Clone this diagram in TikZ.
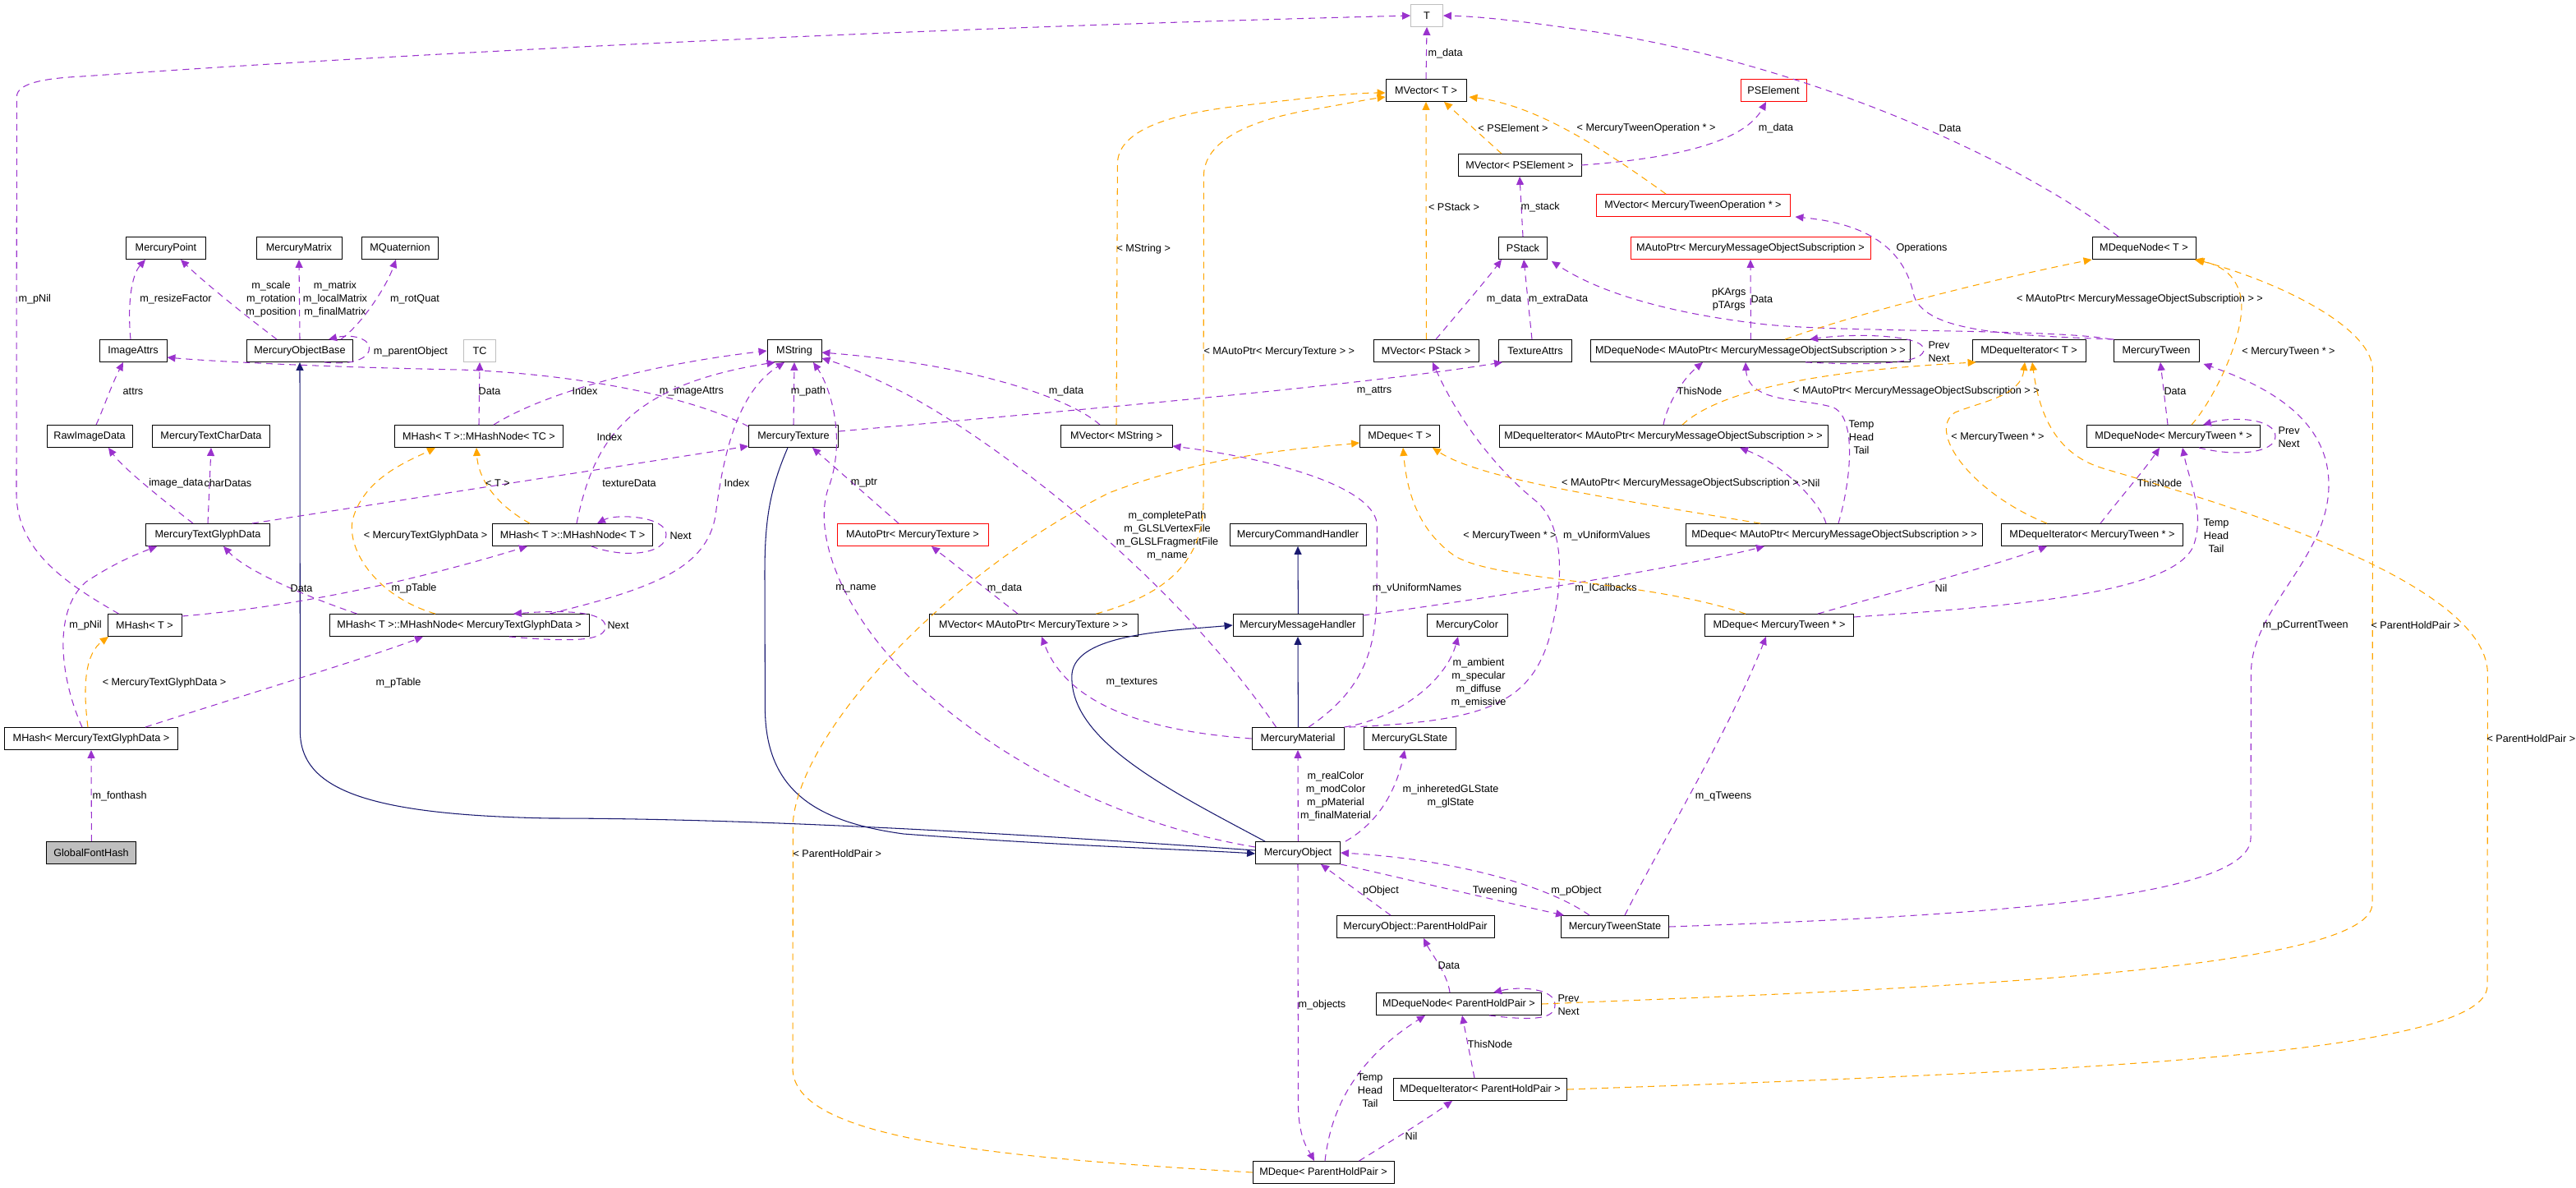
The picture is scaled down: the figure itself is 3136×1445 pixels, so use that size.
\documentclass[tikz,border=0pt]{standalone}
\usepackage{fontspec}
\setmainfont{Liberation Sans}
\usepackage{xcolor}
\usepackage{tikz}
\usetikzlibrary{arrows.meta,calc}
\definecolor{EdgeUse}{HTML}{9A32CD}
\definecolor{EdgeTpl}{HTML}{FFA500}
\definecolor{EdgeInh}{HTML}{191970}
\definecolor{BoxGray}{HTML}{BFBFBF}
\tikzset{
  cls/.style={draw=black, line width=0.5pt, minimum height=5.4mm, inner xsep=1pt, inner ysep=0pt},
  bw/.style={minimum width=#1*0.2mm},
  redcls/.style={cls, draw=red},
  graycls/.style={cls, draw=BoxGray},
  usedge/.style={draw=EdgeUse, line width=0.6pt, dash pattern=on 1.6mm off 1.2mm, -{Triangle[length=2mm,width=1.8mm]}},
  tpledge/.style={draw=EdgeTpl, line width=0.6pt, dash pattern=on 1.6mm off 1.2mm, -{Triangle[length=2mm,width=1.8mm]}},
  inhedge/.style={draw=EdgeInh, line width=0.6pt, -{Triangle[length=2mm,width=1.8mm]}},
  lbl/.style={text=black, inner sep=0pt, align=center}
}

\begin{document}
\begin{tikzpicture}[x=0.2mm, y=-0.2mm, font=\fontsize{7.2}{9.1}\selectfont]
  \useasboundingbox (0,0) rectangle (3136,1445);
  \node[graycls, bw=39] (t) at (1737,19) {T};
  \node[cls, bw=98] (mvect) at (1736,110) {MVector< T >};
  \node[redcls, bw=80] (pselem) at (2159,110) {PSElement};
  \node[cls, bw=150] (mvpse) at (1850,201) {MVector< PSElement >};
  \node[redcls, bw=236] (mvmto) at (2061,250) {MVector< MercuryTweenOperation * >};
  \node[cls, bw=97] (mpoint) at (202,302) {MercuryPoint};
  \node[cls, bw=104] (mmatrix) at (364,302) {MercuryMatrix};
  \node[cls, bw=93] (mquat) at (487,302) {MQuaternion};
  \node[cls, bw=59] (pstack) at (1854,302) {PStack};
  \node[redcls, bw=292] (mapmmos) at (2131,302) {MAutoPtr< MercuryMessageObjectSubscription >};
  \node[cls, bw=126] (mdnt) at (2610,302) {MDequeNode< T >};
  \node[cls, bw=82] (iattrs) at (162,427) {ImageAttrs};
  \node[cls, bw=129] (mob) at (365,427) {MercuryObjectBase};
  \node[graycls, bw=39] (tc) at (584,427) {TC};
  \node[cls, bw=66] (mstring) at (967,427) {MString};
  \node[cls, bw=128] (mvpstack) at (1736,427) {MVector< PStack >};
  \node[cls, bw=89] (tattrs) at (1869,427) {TextureAttrs};
  \node[cls, bw=389] (mdnmmos) at (2131,427) {MDequeNode< MAutoPtr< MercuryMessageObjectSubscription > >};
  \node[cls, bw=138] (mdit) at (2470,427) {MDequeIterator< T >};
  \node[cls, bw=104] (mtween) at (2625,427) {MercuryTween};
  \node[cls, bw=104] (rawimg) at (109,531) {RawImageData};
  \node[cls, bw=143] (mtcd) at (257,531) {MercuryTextCharData};
  \node[cls, bw=205] (mhntc) at (583,531) {MHash< T >::MHashNode< TC >};
  \node[cls, bw=109] (mtex) at (966,531) {MercuryTexture};
  \node[cls, bw=136] (mvmstr) at (1359,531) {MVector< MString >};
  \node[cls, bw=97] (mdqt) at (1704,531) {MDeque< T >};
  \node[cls, bw=400] (mdimmos) at (2025,531) {MDequeIterator< MAutoPtr< MercuryMessageObjectSubscription > >};
  \node[cls, bw=211] (mdnmt) at (2646,531) {MDequeNode< MercuryTween * >};
  \node[cls, bw=151] (mtgd) at (253,651) {MercuryTextGlyphData};
  \node[cls, bw=195] (mhnt) at (697,651) {MHash< T >::MHashNode< T >};
  \node[redcls, bw=184] (apmtex) at (1111,651) {MAutoPtr< MercuryTexture >};
  \node[cls, bw=166] (mch) at (1580,651) {MercuryCommandHandler};
  \node[cls, bw=361] (mdqmmos) at (2233,651) {MDeque< MAutoPtr< MercuryMessageObjectSubscription > >};
  \node[cls, bw=221] (mdimt) at (2547,651) {MDequeIterator< MercuryTween * >};
  \node[cls, bw=90] (mht) at (176,761) {MHash< T >};
  \node[cls, bw=316] (mhnmtgd) at (559,761) {MHash< T >::MHashNode< MercuryTextGlyphData >};
  \node[cls, bw=254] (mvapmtex) at (1258,761) {MVector< MAutoPtr< MercuryTexture > >};
  \node[cls, bw=158] (mmh) at (1580,761) {MercuryMessageHandler};
  \node[cls, bw=98] (mcolor) at (1786,761) {MercuryColor};
  \node[cls, bw=181] (mdqmt) at (2166,761) {MDeque< MercuryTween * >};
  \node[cls, bw=211] (mhmtgd) at (111,899) {MHash< MercuryTextGlyphData >};
  \node[cls, bw=112] (mmat) at (1580,899) {MercuryMaterial};
  \node[cls, bw=112] (mgls) at (1716,899) {MercuryGLState};
  \node[cls, bw=109, fill=BoxGray] (gfh) at (111,1038) {GlobalFontHash};
  \node[cls, bw=103] (mobj) at (1580,1038) {MercuryObject};
  \node[cls, bw=192] (phpair) at (1723,1128) {MercuryObject::ParentHoldPair};
  \node[cls, bw=131] (mtstate) at (1966,1128) {MercuryTweenState};
  \node[cls, bw=201] (mdnphp) at (1776,1222) {MDequeNode< ParentHoldPair >};
  \node[cls, bw=211] (mdiphp) at (1802,1326) {MDequeIterator< ParentHoldPair >};
  \node[cls, bw=172] (mdqphp) at (1611,1427) {MDeque< ParentHoldPair >};

  \draw[inhedge] ($(mmh.north)+(0.4,0)$) -- (mch.south);
  \draw[inhedge] ($(mmat.north)+(0.4,0)$) -- (mmh.south);
  \draw[inhedge] ($(mobj.north west)+(12,0)$) .. controls (1420,960) and (1300,900) .. (1305,820) .. controls (1310,772) and (1420,768) .. (mmh.west);
  \draw[inhedge] ($(mobj.west)+(0,-3)$) .. controls (1200,1012) and (900,996) .. (670,996) .. controls (450,992) and (365.4,962) .. (365.4,890) -- (mob.south);
  \draw[inhedge] ($(mtex.south)+(-7,0)$) .. controls (935,600) and (931,640) .. (931,700) -- (931.4,860) .. controls (931,960) and (990,1000) .. (1100,1015) .. controls (1300,1030) and (1450,1034) .. ($(mobj.west)+(0,1)$);

  \draw[usedge] ($(mob.north)+(-28,0)$) .. controls (300,385) and (250,345) .. ($(mpoint.south)+(18,0)$) node[lbl] at (330,364) {m\_scale\\m\_rotation\\m\_position};
  \draw[usedge] (mob.north) -- (mmatrix.south) node[lbl] at (408,364) {m\_matrix\\m\_localMatrix\\m\_finalMatrix};
  \draw[usedge] ($(mob.north east)+(-15,0)$) .. controls (440,395) and (470,350) .. ($(mquat.south)+(-5,0)$) node[lbl] at (505,364) {m\_rotQuat};
  \draw[usedge] ($(mob.south)+(30,0)$) .. controls (440,446) and (455,430) .. (448,418) .. controls (440,408) and (420,408) .. ($(mob.north)+(35,0)$) node[lbl] at (500,428) {m\_parentObject};
  \draw[usedge] ($(iattrs.north)+(-3,0)$) .. controls (155,370) and (160,335) .. ($(mpoint.south)+(-25,0)$) node[lbl] at (214,364) {m\_resizeFactor};
  \draw[usedge] ($(rawimg.north)+(8,0)$) .. controls (125,500) and (135,470) .. ($(iattrs.south)+(-12,0)$) node[lbl] at (162,476) {attrs};
  \draw[usedge] ($(mtex.north west)+(0,2)$) .. controls (840,482) and (700,455) .. (560,450) .. controls (400,447) and (260,440) .. ($(iattrs.east)+(0,8)$) node[lbl] at (842,476) {m\_imageAttrs};
  \draw[usedge] (mhntc.north) -- (tc.south) node[lbl] at (596,476) {Data};
  \draw[usedge] ($(mhntc.north east)+(-85,0)$) .. controls (660,480) and (780,445) .. (mstring.west) node[lbl] at (712,476) {Index};
  \draw[usedge] ($(mhnt.north)+(5,0)$) .. controls (722,540) and (760,470) .. ($(mstring.south west)+(10,0)$) node[lbl] at (742,532) {Index};
  \draw[usedge] ($(mhnmtgd.north)+(110,0)$) .. controls (800,715) and (865,690) .. (872,620) .. controls (885,520) and (910,470) .. ($(mstring.south)+(-12,0)$) node[lbl] at (897,588) {Index};
  \draw[usedge] (mtex.north) -- (mstring.south) node[lbl] at (984,476) {m\_path};
  \draw[usedge] ($(mobj.west)+(0,-7)$) .. controls (1400,1010) and (1250,950) .. (1130,845) .. controls (1030,760) and (985,650) .. (1010,590) .. controls (1030,530) and (1010,470) .. ($(mstring.south)+(23,0)$) node[lbl] at (1042,716) {m\_name};
  \draw[usedge] ($(mmat.north west)+(30,0)$) .. controls (1420,690) and (1200,530) .. (1100,478) .. controls (1060,458) and (1030,445) .. ($(mstring.east)+(0,9)$) node[lbl] at (1421,652) {m\_completePath\\m\_GLSLVertexFile\\m\_GLSLFragmentFile\\m\_name};
  \draw[usedge] ($(mvmstr.north)+(-20,0)$) .. controls (1310,490) and (1200,445) .. ($(mstring.east)+(0,2)$) node[lbl] at (1298,476) {m\_data};
  \draw[usedge] ($(mtex.east)+(0,-6)$) .. controls (1300,500) and (1650,470) .. ($(tattrs.south west)+(5,0)$) node[lbl] at (1673,476) {m\_attrs};
  \draw[usedge] ($(mtgd.north east)+(-22,0)$) -- ($(mtex.west)+(0,12)$) node[lbl] at (766,588) {textureData};
  \draw[usedge] ($(mtgd.north)+(-18,0)$) .. controls (200,610) and (150,570) .. ($(rawimg.south)+(23,0)$) node[lbl, anchor=east] at (248,588) {image\_data};
  \draw[usedge] (mtgd.north) -- (mtcd.south) node[lbl, anchor=west] at (248,588) {charDatas};
  \draw[usedge] ($(mhnmtgd.north west)+(34,0)$) .. controls (370,725) and (300,695) .. ($(mtgd.south)+(19,0)$) node[lbl] at (367,716) {Data};
  \draw[usedge] ($(mht.east)+(0,-11)$) .. controls (400,735) and (560,690) .. ($(mhnt.south)+(-55,0)$) node[lbl] at (504,716) {m\_pTable};
  \draw[usedge] ($(mht.north west)+(14,0)$) .. controls (80,710) and (20,670) .. (20,600) -- (20.4,118) .. controls (20,100) and (60,95) .. (100,93) .. controls (600,58) and (1200,32) .. (t.west) node[lbl, anchor=west] at (22,364) {m\_pNil};
  \draw[usedge] ($(mhmtgd.north)+(-11,0)$) .. controls (75,830) and (62,745) .. (105,708) .. controls (140,685) and (165,675) .. ($(mtgd.south west)+(14,0)$) node[lbl] at (104,761) {m\_pNil};
  \draw[usedge] ($(mhmtgd.north east)+(-40,0)$) .. controls (300,845) and (450,800) .. ($(mhnmtgd.south)+(-44,0)$) node[lbl] at (485,831) {m\_pTable};
  \draw[usedge] ($(gfh.north)+(0.4,0)$) -- (mhmtgd.south) node[lbl, anchor=west] at (112,969) {m\_fonthash};
  \draw[usedge] ($(mhnt.south)+(23,0)$) .. controls (760,680) and (812,675) .. (811,650) .. controls (810,628) and (750,625) .. ($(mhnt.north)+(30,0)$) node[lbl, anchor=west] at (815,652) {Next};
  \draw[usedge] ($(mhnmtgd.south)+(61,0)$) .. controls (700,782) and (738,780) .. (737,762) .. controls (736,745) and (690,742) .. ($(mhnmtgd.north)+(66,0)$) node[lbl, anchor=west] at (739,761) {Next};
  \draw[usedge] ($(apmtex.north)+(-17,0)$) -- ($(mtex.south)+(23,0)$) node[lbl] at (1052,588) {m\_ptr};
  \draw[usedge] ($(mvapmtex.north)+(-19,0)$) -- ($(apmtex.south)+(23,0)$) node[lbl] at (1223,716) {m\_data};
  \draw[usedge] (mmat.west) .. controls (1400,890) and (1300,860) .. ($(mvapmtex.south)+(10,0)$) node[lbl] at (1378,831) {m\_textures};
  \draw[usedge] ($(mmat.north)+(13,0)$) .. controls (1660,840) and (1676,790) .. (1676,720) -- (1676.4,640) .. controls (1676,595) and (1560,560) .. ($(mvmstr.south east)+(0,-2)$) node[lbl] at (1725,716) {m\_vUniformNames};
  \draw[usedge] ($(mmat.north east)+(6,0)$) .. controls (1800,878) and (1860,860) .. (1885,780) .. controls (1905,710) and (1905,640) .. (1870,610) .. controls (1820,570) and (1775,510) .. ($(mvpstack.south)+(8,0)$) node[lbl] at (1956,652) {m\_vUniformValues};
  \draw[usedge] (mmat.north east) .. controls (1700,875) and (1760,830) .. ($(mcolor.south)+(-11,0)$) node[lbl] at (1800,831) {m\_ambient\\m\_specular\\m\_diffuse\\m\_emissive};
  \draw[usedge] ($(mmh.north east)+(0,2)$) .. controls (1800,730) and (2050,690) .. ($(mdqmmos.south)+(-85,0)$) node[lbl] at (1955,716) {m\_lCallbacks};
  \draw[usedge] ($(mobj.north)+(0.4,0)$) -- (mmat.south) node[lbl] at (1626,969) {m\_realColor\\m\_modColor\\m\_pMaterial\\m\_finalMaterial};
  \draw[usedge] ($(mobj.north east)+(6,0)$) .. controls (1680,1000) and (1700,960) .. ($(mgls.south)+(-6,0)$) node[lbl] at (1766,969) {m\_inheretedGLState\\m\_glState};
  \draw[usedge] (mobj.south) -- (1580.4,1340) .. controls (1580,1385) and (1593,1400) .. ($(mdqphp.north)+(-11,0)$) node[lbl, anchor=west] at (1580,1223) {m\_objects};
  \draw[usedge] ($(phpair.north)+(-30,0)$) -- ($(mobj.south)+(28,0)$) node[lbl] at (1681,1084) {pObject};
  \draw[usedge] (mobj.south east) .. controls (1720,1072) and (1840,1100) .. ($(mtstate.north west)+(4,0)$) node[lbl] at (1820,1084) {Tweening};
  \draw[usedge] ($(mtstate.north)+(-31,0)$) .. controls (1880,1075) and (1760,1045) .. (mobj.east) node[lbl] at (1919,1084) {m\_pObject};
  \draw[usedge] ($(mtstate.north)+(12,0)$) .. controls (2020,1030) and (2100,900) .. ($(mdqmt.south)+(-16,0)$) node[lbl] at (2098,969) {m\_qTweens};
  \draw[usedge] (mtstate.east) .. controls (2400,1115) and (2740,1095) .. (2740,1020) -- (2740.4,820) .. controls (2740,740) and (2835,680) .. (2835,590) .. controls (2835,510) and (2760,470) .. ($(mtween.south east)+(5,2)$) node[lbl, anchor=west] at (2754,761) {m\_pCurrentTween};
  \draw[usedge] ($(mdnphp.north)+(-11,0)$) .. controls (1762,1185) and (1742,1160) .. ($(phpair.south)+(10,0)$) node[lbl, anchor=west] at (1750,1175) {Data};
  \draw[usedge] ($(mdnphp.south)+(37,0)$) .. controls (1870,1243) and (1894,1240) .. (1893,1222) .. controls (1892,1203) and (1850,1200) .. ($(mdnphp.north)+(42,0)$) node[lbl, anchor=west] at (1896,1223) {Prev\\Next};
  \draw[usedge] ($(mdiphp.north)+(-7,0)$) -- ($(mdnphp.south)+(4,0)$) node[lbl] at (1814,1271) {ThisNode};
  \draw[usedge] ($(mdqphp.north)+(2,0)$) .. controls (1620,1350) and (1650,1290) .. ($(mdnphp.south)+(-41,0)$) node[lbl] at (1668,1327) {Temp\\Head\\Tail};
  \draw[usedge] ($(mdqphp.north east)+(-43,0)$) .. controls (1700,1385) and (1740,1360) .. ($(mdiphp.south)+(-34,0)$) node[lbl] at (1718,1383) {Nil};
  \draw[usedge] ($(mdnt.north)+(-31,0)$) .. controls (2450,190) and (2200,80) .. (1950,40) .. controls (1850,25) and (1800,20) .. (t.east) node[lbl] at (2374,156) {Data};
  \draw[usedge] (mvect.north) -- (t.south) node[lbl, anchor=west] at (1738,65) {m\_data};
  \draw[usedge] (mvpse.east) .. controls (2050,192) and (2125,170) .. ($(pselem.south)+(-9,0)$) node[lbl] at (2162,156) {m\_data};
  \draw[usedge] (pstack.north) -- (mvpse.south) node[lbl, anchor=west] at (1851,252) {m\_stack};
  \draw[usedge] ($(mvpstack.north)+(12,0)$) .. controls (1780,375) and (1810,340) .. ($(pstack.south)+(-26,0)$) node[lbl] at (1831,364) {m\_data};
  \draw[usedge] ($(tattrs.north)+(-4,0)$) -- ($(pstack.south)+(1,0)$) node[lbl] at (1897,364) {m\_extraData};
  \draw[usedge] ($(mtween.north west)+(-2,0)$) .. controls (2500,400) and (2250,405) .. (2150,395) .. controls (2000,378) and (1930,345) .. ($(pstack.south east)+(5,2)$) node[lbl, anchor=east] at (2126,364) {pKArgs\\pTArgs};
  \draw[usedge] ($(mtween.north west)+(1,0)$) .. controls (2450,408) and (2345,405) .. (2330,360) .. controls (2318,300) and (2270,272) .. ($(mvmto.south east)+(6,0)$) node[lbl, anchor=west] at (2308,302) {Operations};
  \draw[usedge] ($(mdnmmos.north)+(0.4,0)$) -- (mapmmos.south) node[lbl, anchor=west] at (2131,364) {Data};
  \draw[usedge] ($(mdnmmos.south)+(67,0)$) .. controls (2300,446) and (2343,440) .. (2342,425) .. controls (2341,408) and (2260,405) .. ($(mdnmmos.north)+(72,0)$) node[lbl, anchor=west] at (2347,428) {Prev\\Next};
  \draw[usedge] (mdimmos.north) .. controls (2030,490) and (2050,460) .. ($(mdnmmos.south)+(-58,0)$) node[lbl] at (2069,476) {ThisNode};
  \draw[usedge] ($(mdqmmos.north)+(-10,0)$) .. controls (2215,610) and (2170,565) .. ($(mdimmos.south)+(93,0)$) node[lbl] at (2208,588) {Nil};
  \draw[usedge] ($(mdqmmos.north)+(5,0)$) .. controls (2252,590) and (2262,510) .. (2232,496) .. controls (2195,484) and (2128,492) .. ($(mdnmmos.south)+(-6,0)$) node[lbl, anchor=west] at (2250,532) {Temp\\Head\\Tail};
  \draw[usedge] ($(mdnmt.north)+(-7,0)$) -- ($(mtween.south)+(5,0)$) node[lbl, anchor=west] at (2634,476) {Data};
  \draw[usedge] ($(mdnmt.south)+(31,0)$) .. controls (2720,556) and (2770,552) .. (2770,531) .. controls (2770,510) and (2720,506) .. ($(mdnmt.north)+(36,0)$) node[lbl, anchor=west] at (2773,532) {Prev\\Next};
  \draw[usedge] ($(mdimt.north)+(10,0)$) .. controls (2582,605) and (2612,570) .. ($(mdnmt.south)+(-17,0)$) node[lbl] at (2629,588) {ThisNode};
  \draw[usedge] ($(mdqmt.north)+(47,0)$) .. controls (2300,722) and (2430,688) .. ($(mdimt.south)+(-55,0)$) node[lbl] at (2363,716) {Nil};
  \draw[usedge] ($(mdqmt.east)+(0,-10)$) .. controls (2450,738) and (2645,722) .. (2670,665) .. controls (2685,625) and (2665,585) .. ($(mdnmt.south)+(11,0)$) node[lbl, anchor=west] at (2682,652) {Temp\\Head\\Tail};

  \draw[tpledge] ($(mhmtgd.north)+(-4,0)$) .. controls (100,830) and (105,795) .. ($(mht.south)+(-44,0)$) node[lbl] at (200,831) {< MercuryTextGlyphData >};
  \draw[tpledge] ($(mhnmtgd.north)+(-29,0)$) .. controls (455,725) and (420,665) .. (430,630) .. controls (445,580) and (500,560) .. ($(mhntc.south)+(-53,0)$) node[lbl] at (518,652) {< MercuryTextGlyphData >};
  \draw[tpledge] ($(mhnt.north)+(-52,0)$) .. controls (600,612) and (582,580) .. ($(mhntc.south)+(-3,0)$) node[lbl] at (606,588) {< T >};
  \draw[tpledge] (mvmstr.north) -- (1360.4,200) .. controls (1360,160) and (1420,140) .. (1500,130) .. controls (1600,118) and (1650,113) .. ($(mvect.west)+(0,3)$) node[lbl, anchor=west] at (1359,303) {< MString >};
  \draw[tpledge] ($(mvapmtex.north east)+(-51,0)$) .. controls (1425,722) and (1465,680) .. (1465,610) -- (1465.4,215) .. controls (1465,170) and (1525,145) .. (1600,133) .. controls (1640,126) and (1665,121) .. ($(mvect.west)+(0,8)$) node[lbl, anchor=west] at (1465,428) {< MAutoPtr< MercuryTexture > >};
  \draw[tpledge] ($(mvpse.north)+(-22,0)$) -- ($(mvect.south)+(22,0)$) node[lbl] at (1842,156) {< PSElement >};
  \draw[tpledge] ($(mvmto.north)+(-33,0)$) .. controls (1950,180) and (1870,128) .. ($(mvect.east)+(3,8)$) node[lbl] at (2004,156) {< MercuryTweenOperation * >};
  \draw[tpledge] ($(mvpstack.north)+(0.4,0)$) -- (mvect.south) node[lbl] at (1770,252) {< PStack >};
  \draw[tpledge] ($(mdqmt.north)+(-41,0)$) .. controls (2000,705) and (1820,708) .. (1770,676) .. controls (1722,642) and (1712,590) .. ($(mdqt.south)+(4,0)$) node[lbl] at (1838,652) {< MercuryTween * >};
  \draw[tpledge] ($(mdqmmos.north)+(-90,0)$) .. controls (1950,605) and (1800,582) .. ($(mdqt.south east)+(-9,0)$) node[lbl] at (2051,588) {< MAutoPtr< MercuryMessageObjectSubscription > >};
  \draw[tpledge] (mdqphp.west) .. controls (1200,1408) and (965,1385) .. (965,1300) -- (965.4,1000) .. controls (975,890) and (1150,700) .. (1350,600) .. controls (1480,550) and (1600,545) .. ($(mdqt.west)+(0,8)$) node[lbl, anchor=west] at (965,1039) {< ParentHoldPair >};
  \draw[tpledge] ($(mdnmmos.north)+(42,0)$) .. controls (2280,375) and (2450,335) .. (mdnt.south west) node[lbl] at (2605,364) {< MAutoPtr< MercuryMessageObjectSubscription > >};
  \draw[tpledge] ($(mdimmos.north)+(23,0)$) .. controls (2090,478) and (2200,452) .. ($(mdit.south west)+(5,0)$) node[lbl] at (2333,476) {< MAutoPtr< MercuryMessageObjectSubscription > >};
  \draw[tpledge] ($(mdimt.north)+(-55,0)$) .. controls (2400,600) and (2345,525) .. (2380,502) .. controls (2415,488) and (2460,482) .. ($(mdit.south)+(-5,0)$) node[lbl] at (2432,532) {< MercuryTween * >};
  \draw[tpledge] (mdiphp.east) .. controls (2500,1305) and (3028,1285) .. (3028,1200) -- (3028.4,820) .. controls (3028,700) and (2660,600) .. (2560,570) .. controls (2500,552) and (2482,500) .. ($(mdit.south)+(4,0)$) node[lbl, anchor=west] at (3027,899) {< ParentHoldPair >};
  \draw[tpledge] ($(mdnmt.north)+(22,0)$) .. controls (2700,480) and (2735,400) .. (2728,362) .. controls (2722,332) and (2700,322) .. ($(mdnt.south east)+(-2,0)$) node[lbl] at (2786,428) {< MercuryTween * >};
  \draw[tpledge] (mdnphp.east) .. controls (2300,1205) and (2888,1185) .. (2888,1100) -- (2888.4,450) .. controls (2888,400) and (2780,345) .. (mdnt.south east) node[lbl, anchor=west] at (2886,761) {< ParentHoldPair >};
\end{tikzpicture}
\end{document}
